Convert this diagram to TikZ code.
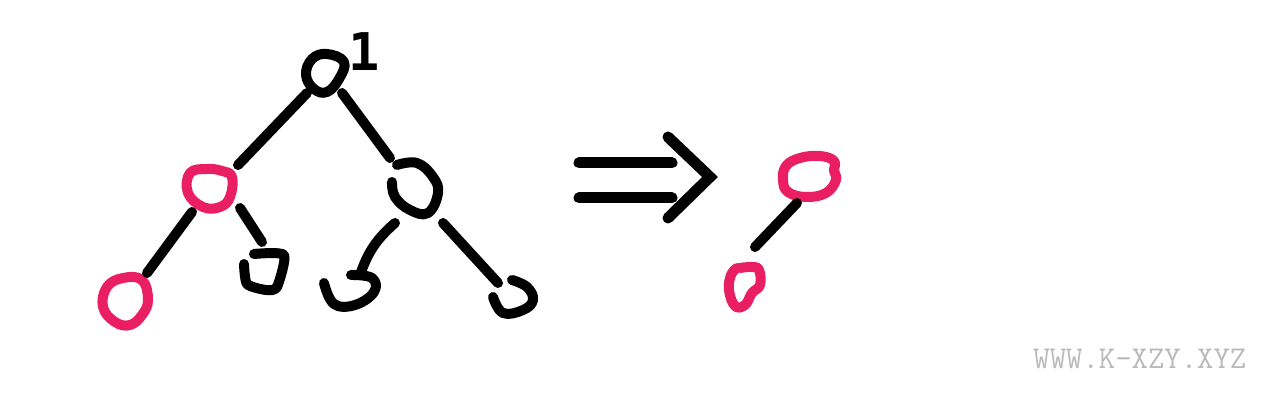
\documentclass[tikz,border=0pt]{standalone}
\usepackage{fontspec}
\usetikzlibrary{shapes.geometric}
\newfontfamily\digitfont{DejaVu Sans Mono}
\definecolor{pinkred}{RGB}{233,30,99}
\definecolor{wmgray}{RGB}{185,185,185}
\tikzset{
  pen/.style={line width=5pt, line cap=round, line join=round},
  blackpen/.style={pen, draw=black},
  pinkpen/.style={pen, draw=pinkred},
  vert/.style={ellipse, inner sep=0pt},
  edge/.style={pen, draw=black},
}
\begin{document}
\begin{tikzpicture}[x=0.5pt, y=-0.5pt]
\path[use as bounding box] (0,0) rectangle (1280,400);
% invisible named nodes (centres of the sketched circles)
\node[vert, minimum width=20pt, minimum height=22pt] (r)  at (325,75)  {};
\node[vert, minimum width=25pt, minimum height=20pt] (l)  at (210,189) {};
\node[vert, minimum width=25pt, minimum height=27pt] (R)  at (415,190) {};
\node[vert, minimum width=25pt, minimum height=25pt] (LL) at (125,302) {};
\node[vert, minimum width=23pt, minimum height=21pt] (LR) at (265,272) {};
\node[vert, minimum width=28pt, minimum height=20pt] (RL) at (348,290) {};
\node[vert, minimum width=24pt, minimum height=20pt] (RR) at (513,297) {};
\node[vert, minimum width=30pt, minimum height=22pt] (P1) at (810,177) {};
\node[vert, minimum width=18pt, minimum height=22pt] (P2) at (745,287) {};

% sketched outlines
\draw[blackpen] plot[smooth cycle, tension=0.7] coordinates {(327,54) (344,62) (339,79) (327,92) (314,89) (306,75) (312,59)};
\draw[pinkpen] plot[smooth cycle, tension=0.7] coordinates {(190,173) (207,169) (222,171) (232,177) (230,197) (220,207) (203,207) (188,193)};
\draw[blackpen] plot[smooth, tension=0.7] coordinates {(397,165) (417,163) (433,177) (438,193) (428,213) (410,210) (395,197) (392,182)};
\draw[pinkpen] plot[smooth cycle, tension=0.7] coordinates {(107,287) (123,278) (142,280) (148,300) (142,315) (130,325) (115,322) (103,307)};
\draw[blackpen] plot[smooth, tension=0.4] coordinates {(254,254) (284,255) (277,287) (266,290) (247,284) (244,264)};
\draw[blackpen] plot[smooth, tension=0.7] coordinates {(351,275) (372,278) (374,292) (355,305) (334,304) (324,283)};
\draw[blackpen] plot[smooth, tension=0.7] coordinates {(512,280) (527,287) (533,300) (523,310) (503,313) (493,297)};
\draw[pinkpen] plot[smooth cycle, tension=0.7] coordinates {(786,166) (800,158) (820,156) (834,161) (834,171) (836,180) (826,193) (806,197) (788,192) (783,180)};
\draw[pinkpen] plot[smooth, tension=0.7] coordinates {(740,268) (752,267) (759,270) (760,285) (752,293) (745,305) (735,306) (729,290) (731,275) (737,268)};

% label
\node[font=\digitfont\bfseries\fontsize{26}{26}\selectfont, inner sep=0pt] (one) at (364,52) {1};

% connectors
\draw[edge] ([shift={(-18,18)}]r.center) -- ([shift={(28,-24)}]l.center);
\draw[edge] ([shift={(17,18)}]r.center) -- ([shift={(-25,-32)}]R.center);
\draw[edge] ([shift={(-18,23)}]l.center) -- ([shift={(22,-29)}]LL.center);
\draw[edge] ([shift={(30,19)}]l.center) -- ([shift={(-3,-30)}]LR.center);
\draw[edge] ([shift={(-20,33)}]R.center) to[bend right=15] ([shift={(12,-15)}]RL.center);
\draw[edge] ([shift={(28,33)}]R.center) -- ([shift={(-15,-14)}]RR.center);
\draw[edge] ([shift={(-13,26)}]P1.center) -- ([shift={(10,-40)}]P2.center);

% implication arrow
\draw[pen, line width=5.5pt] (579,163) -- (672,163);
\draw[pen, line width=5.5pt] (579,198) -- (672,198);
\draw[pen, line width=5.5pt, line join=miter] (668,137) -- (710,177) -- (668,218);

% watermark
\node[font=\ttfamily\fontsize{15.9}{16}\selectfont, text=wmgray, anchor=west, inner sep=0pt] (wm) at (1033,359) {WWW.K-XZY.XYZ};
\end{tikzpicture}
\end{document}
